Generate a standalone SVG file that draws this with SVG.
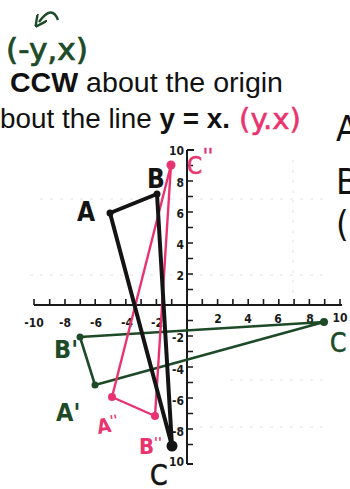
<svg xmlns="http://www.w3.org/2000/svg" width="350" height="489" viewBox="0 0 350 489">
<defs>
<style>
.hd{font-family:"DejaVu Sans Condensed","DejaVu Sans",sans-serif;font-weight:bold}
.hn{font-family:"DejaVu Sans Condensed","DejaVu Sans",sans-serif;font-weight:normal}
.tx{font-family:"Liberation Sans",Arial,sans-serif;font-size:27px;fill:#111}
.ax{font-family:"DejaVu Sans Condensed","DejaVu Sans",sans-serif;font-size:12px;font-weight:bold;fill:#1a1a1a}
.axis{stroke:#1a1a1a;stroke-width:2;fill:none}
.tick{stroke:#1a1a1a;stroke-width:1.6}
.grid{stroke:#e2e2e2;stroke-width:1;stroke-dasharray:3 7;fill:none}
.blk{stroke:#141414;stroke-width:4;fill:none;stroke-linejoin:round;stroke-linecap:round}
.grn{stroke:#1d4a27;stroke-width:2.6;fill:none;stroke-linejoin:round;stroke-linecap:round}
.pnk{stroke:#e9336f;stroke-width:2.4;fill:none;stroke-linejoin:round;stroke-linecap:round}
.g{fill:#1d4a27}.p{fill:#e9336f}.k{fill:#141414}
</style>
<marker id="ah" viewBox="0 0 10 10" refX="5" refY="5" markerWidth="5" markerHeight="5" orient="auto">
<path d="M0,0 L10,5 L0,10" fill="none" stroke="#1d4a27" stroke-width="2"/>
</marker>
</defs>
<rect width="350" height="489" fill="#fff"/>

<g id="header">
<text class="hn g" x="6" y="60" font-size="30" textLength="82" lengthAdjust="spacingAndGlyphs" stroke="#1d4a27" stroke-width="0.7">(-y,x)</text>
<path d="M58,20 Q52,4 39,22" fill="none" stroke="#1d4a27" stroke-width="2.4" marker-end="url(#ah)"/>
<text class="tx" x="10" y="92" textLength="273" lengthAdjust="spacingAndGlyphs"><tspan font-weight="bold">CCW</tspan> about the origin</text>
<text class="tx" x="0" y="128" textLength="230" lengthAdjust="spacingAndGlyphs">bout the line <tspan font-weight="bold">y = x.</tspan></text>
<text class="hn p" x="239" y="129" font-size="28" textLength="62" lengthAdjust="spacingAndGlyphs" stroke="#e9336f" stroke-width="0.5">(y.x)</text>
<text class="hn" x="336" y="141" font-size="36" fill="#111">A</text>
<text class="hn" x="336" y="194" font-size="36" fill="#111">B</text>
<text class="hn" x="336" y="236" font-size="36" fill="#111">(</text>
</g>

<g id="grid">
<path class="grid" d="M40,199 H330 M30,275 H330 M200,427 H330 M293,160 V300 M230,380 H330"/>
</g>

<g id="axes">
<path class="axis" d="M34,305 H342 M187,150 V464 M187,150 H194 M187,464 H193"/>
<path class="tick" d="M34,305v-6 M49.7,305v-6 M65,305v-6 M80.3,305v-6 M95.2,305v-6 M110.5,305v-6 M125.8,305v-6 M141.1,305v-6 M156.4,305v-6 M171.7,305v-6 M202.3,305v-6 M217.6,305v-6 M232.9,305v-6 M248.2,305v-6 M263.5,305v-6 M278.8,305v-6 M294.1,305v-6 M309.4,305v-6 M324.7,305v-6 M340,305v-6"/>
<path class="tick" d="M187,165.5h6 M187,181h6 M187,196.5h6 M187,212h6 M187,227.5h6 M187,243h6 M187,258.5h6 M187,274h6 M187,289.5h6 M187,320.5h6 M187,336h6 M187,351.5h6 M187,367h6 M187,382.5h6 M187,398h6 M187,413.5h6 M187,429h6 M187,444.5h6"/>
<g class="ax" text-anchor="middle">
<text x="34" y="327">-10</text><text x="65" y="327">-8</text><text x="96" y="327">-6</text><text x="127" y="327">-4</text><text x="157" y="327">-2</text>
<text x="218" y="323">2</text><text x="248" y="323">4</text><text x="278" y="323">6</text><text x="310" y="323">8</text><text x="340" y="322">10</text>
</g>
<g class="ax" text-anchor="end">
<text x="184" y="155">10</text><text x="184" y="187">8</text><text x="184" y="218">6</text><text x="184" y="249">4</text><text x="184" y="280">2</text>
<text x="184" y="342">-2</text><text x="184" y="374">-4</text><text x="184" y="405">-6</text><text x="184" y="436">-8</text><text x="184" y="466">10</text>
</g>
</g>

<g id="connectors">
<path class="grn" d="M80,337 L324,322 L95,385 Z"/>
<path class="pnk" d="M171,165 L112,397 L155,416 Z"/>
<path class="blk" d="M110,213 L157,194 L172,446 Z"/>
</g>

<g id="triangle-ABC">
<circle class="k" cx="110" cy="213" r="3.5"/>
<circle class="k" cx="157" cy="194" r="3.5"/>
<circle class="k" cx="172" cy="446" r="5.5"/>
<text class="hd k" x="77" y="221" font-size="26">A</text>
<text class="hd k" x="147" y="188" font-size="26">B</text>
<text class="hn k" x="150" y="485" font-size="28" stroke="#141414" stroke-width="0.6">C</text>
</g>

<g id="triangle-A1B1C1">
<circle class="g" cx="80" cy="337" r="3.5"/>
<circle class="g" cx="95" cy="385" r="3.5"/>
<circle class="g" cx="324" cy="322" r="4"/>
<text class="hd g" x="54" y="358" font-size="25">B'</text>
<text class="hd g" x="56" y="421" font-size="25">A'</text>
<text class="hn g" x="330" y="352" font-size="26" stroke="#1d4a27" stroke-width="0.6">C</text>
</g>

<g id="triangle-A2B2C2">
<circle class="p" cx="171" cy="165" r="4.5"/>
<circle class="p" cx="112" cy="397" r="4"/>
<circle class="p" cx="155" cy="416" r="4"/>
<text class="hn p" x="187" y="174" font-size="24" stroke="#e9336f" stroke-width="0.6">C<tspan dx="1" dy="-12" font-size="20">''</tspan></text>
<text class="hd p" x="96" y="432" font-size="20" transform="rotate(-10 108 420)">A<tspan dy="-6" font-size="14">''</tspan></text>
<text class="hd p" x="139" y="454" font-size="22">B<tspan dy="-7" font-size="14">''</tspan></text>
</g>
</svg>
